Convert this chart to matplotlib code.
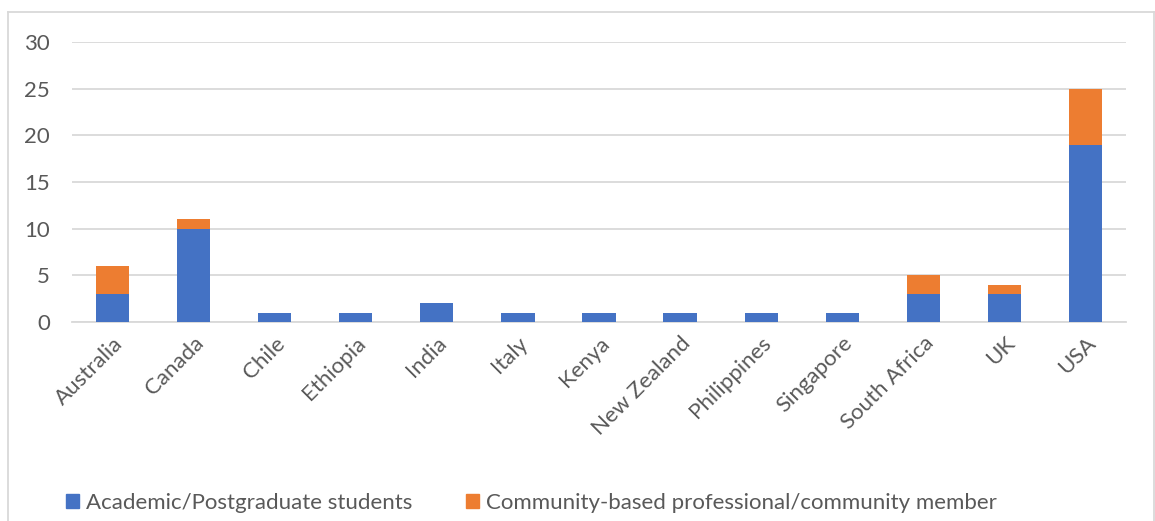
import matplotlib
matplotlib.use("Agg")
import matplotlib.pyplot as plt
from matplotlib.patches import Patch
from matplotlib.lines import Line2D

countries = ["Australia", "Canada", "Chile", "Ethiopia", "India", "Italy", "Kenya",
             "New Zealand", "Philippines", "Singapore", "South Africa", "UK", "USA"]
academic = [3, 10, 1, 1, 2, 1, 1, 1, 1, 1, 3, 3, 19]
community = [3, 1, 0, 0, 0, 0, 0, 0, 0, 0, 2, 1, 6]
series_names = ["Academic/Postgraduate students", "Community-based professional/community member"]
yticks = [0, 5, 10, 15, 20, 25, 30]

BLUE = "#4472C4"
ORANGE = "#ED7D31"
GRID = "#D9D9D9"
TXT = "#595959"

plt.rcParams['font.family'] = ['Lato', 'DejaVu Sans']
FS = 16

W, H = 1155, 521
fig = plt.figure(figsize=(W / 100, H / 100), dpi=100)
ax = fig.add_axes([72 / W, 1 - 322 / H, (1126 - 72) / W, (322 - 42) / H])

x = list(range(len(countries)))
ax.bar(x, academic, width=0.41, color=BLUE, label=series_names[0], zorder=3)
ax.bar(x, community, width=0.41, bottom=academic, color=ORANGE, label=series_names[1], zorder=3)

ax.set_xlim(-0.5, len(countries) - 0.5)
ax.set_ylim(0, 30)
ax.set_yticks(yticks)
ax.yaxis.grid(True, color=GRID, linewidth=1.3, zorder=0)
for s in ["top", "right", "left"]:
    ax.spines[s].set_visible(False)
ax.spines["bottom"].set_color(GRID)
ax.spines["bottom"].set_linewidth(1.3)
ax.tick_params(axis="y", length=0, pad=16, labelsize=FS, labelcolor=TXT)
ax.tick_params(axis="x", length=0, pad=8, labelsize=FS, labelcolor=TXT)
ax.set_xticks(x)
ax.set_xticklabels(countries, rotation=45, ha="right", rotation_mode="anchor")

# outer chart border
fig.add_artist(Line2D([8 / W, 8 / W], [0, 1 - 12 / H], transform=fig.transFigure, color=GRID, lw=1.3))
fig.add_artist(Line2D([8 / W, 1154 / W], [1 - 12 / H, 1 - 12 / H], transform=fig.transFigure, color=GRID, lw=1.3))
fig.add_artist(Line2D([1154 / W, 1154 / W], [0, 1 - 12 / H], transform=fig.transFigure, color=GRID, lw=1.3))

handles = [Patch(color=BLUE), Patch(color=ORANGE)]
leg = fig.legend(handles, series_names, loc="center left", bbox_to_anchor=(66 / W, 1 - 503 / H),
                 ncol=2, frameon=False, handlelength=0.6, handleheight=0.6, handletextpad=0.3,
                 columnspacing=2.4, fontsize=FS, labelcolor=TXT, borderaxespad=0, borderpad=0)

fig.savefig("out.png", dpi=100, facecolor="white")
